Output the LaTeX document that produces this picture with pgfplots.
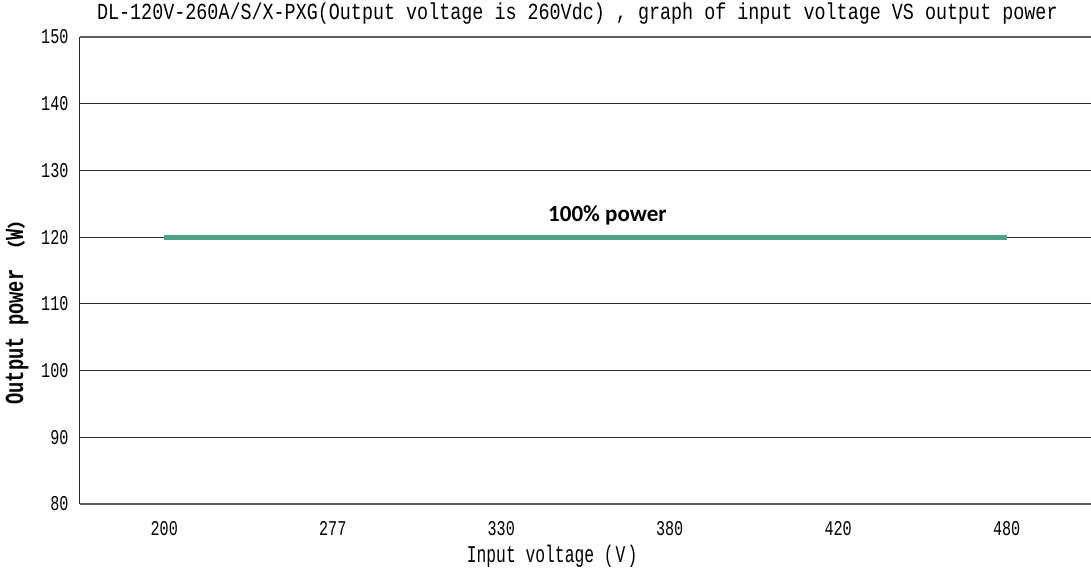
\documentclass[border=0pt]{standalone}
\usepackage{pgfplots}
\pgfplotsset{compat=1.18}
\usepackage{fontspec}
\setmainfont{Liberation Mono}
\newfontfamily\titlefont[FakeStretch=0.8]{Liberation Mono}
\newfontfamily\tickfont[FakeStretch=0.72]{Liberation Mono}
\newfontfamily\labfont[FakeStretch=0.68]{Liberation Mono}
\newfontfamily\ylabfont[FakeStretch=0.72]{Liberation Mono}
\newfontfamily\cjk{Noto Sans CJK SC}
\newfontfamily\calib{Carlito}
\definecolor{lineteal}{RGB}{78,160,135}
\definecolor{gridgray}{RGB}{40,40,40}
\definecolor{spinegray}{RGB}{95,95,95}
\begin{document}
\begin{tikzpicture}[x=1pt,y=1pt]
\useasboundingbox (-80,-68) rectangle (1011,504);
\begin{axis}[
  at={(0,0)}, anchor=south west,
  scale only axis, width=1011pt, height=467pt,
  xmin=-0.5, xmax=5.5, ymin=80, ymax=150,
  xtick={0,1,2,3,4,5},
  xticklabels={200,277,330,380,420,480},
  ytick={80,90,100,110,120,130,140,150},
  ymajorgrids, grid style={gridgray, line width=0.9pt},
  axis x line*=bottom, axis y line*=left,
  x axis line style={draw=spinegray, line width=2pt, -},
  y axis line style={draw=gridgray, line width=1pt, -},
  major tick length=0pt,
  tick label style={font=\tickfont\fontsize{21}{21}\selectfont},
  /pgf/number format/assume math mode=true,
  xticklabel style={yshift=-14pt},
  yticklabel style={xshift=-8pt},
  xlabel={Input voltage (\hspace{2pt}V\hspace{2pt})},
  xlabel style={at={(rel axis cs:0.467,0)}, anchor=north, yshift=-38pt, font=\labfont\fontsize{24}{24}\selectfont},
  ylabel={Output power {\cjk\bfseries\fontsize{18}{18}\selectfont（}W{\cjk\bfseries\fontsize{18}{18}\selectfont）}},
  ylabel style={at={(rel axis cs:0,0.42)}, anchor=south, yshift=48pt, font=\ylabfont\bfseries\fontsize{26}{26}\selectfont},
  title={DL-120V-260A/S/X-PXG(Output voltage is 260Vdc) , graph of input voltage VS output power},
  title style={at={(rel axis cs:0.492,1)}, anchor=south, yshift=3pt, font=\titlefont\fontsize{23}{23}\selectfont},
  clip=false,
]
\draw[spinegray, line width=1.8pt] (rel axis cs:0,1) -- (rel axis cs:1,1);
\addplot[lineteal, line width=5pt] coordinates {(0,120) (1,120) (2,120) (3,120) (4,120) (5,120)};
\node[font=\calib\bfseries\fontsize{23}{23}\selectfont, anchor=south] at (axis cs:2.63,121.3) {100\% power};
\end{axis}
\end{tikzpicture}
\end{document}
